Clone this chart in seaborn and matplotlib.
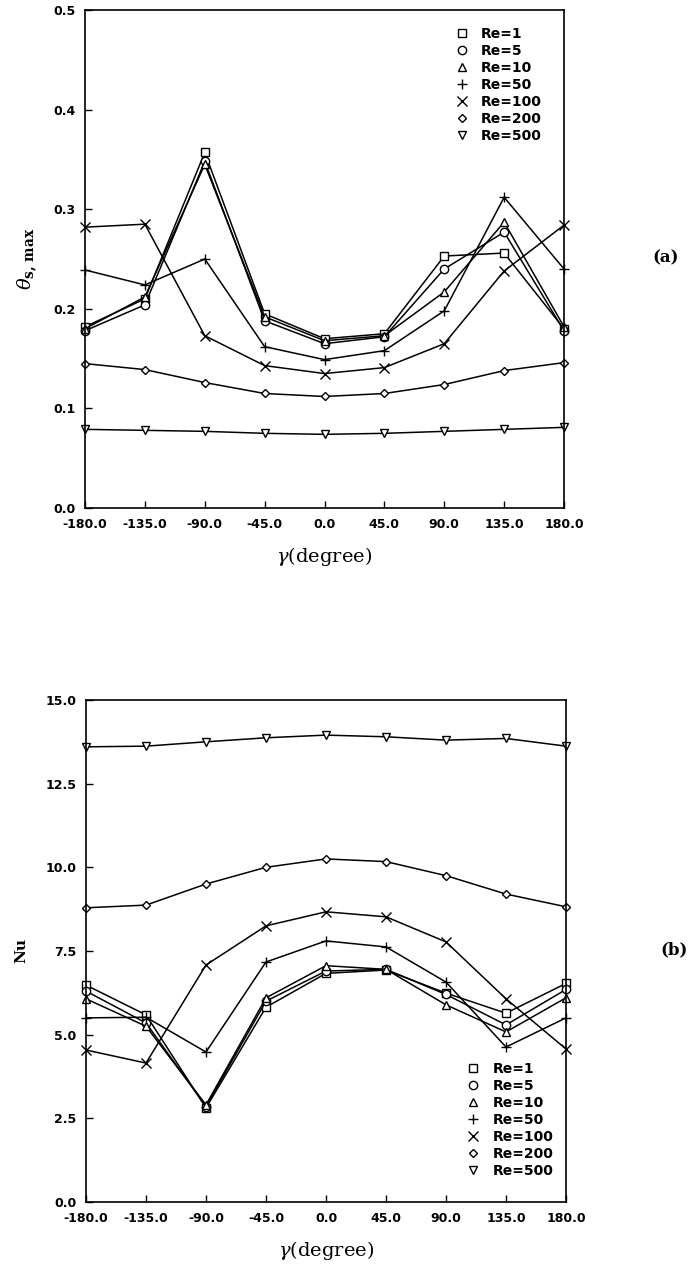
import numpy as np
import pandas as pd
import matplotlib
matplotlib.use("Agg")
import matplotlib.pyplot as plt
from matplotlib.lines import Line2D
import seaborn as sns

# Inclination angle (degree)
gamma = [-180, -135, -90, -45, 0, 45, 90, 135, 180]
re_labels = ["Re=1", "Re=5", "Re=10", "Re=50", "Re=100", "Re=200", "Re=500"]

# (a) max surface temperature
theta_re1 = [0.182, 0.210, 0.357, 0.195, 0.170, 0.175, 0.253, 0.256, 0.180]
theta_re5 = [0.178, 0.204, 0.348, 0.188, 0.165, 0.172, 0.240, 0.277, 0.178]
theta_re10 = [0.180, 0.212, 0.345, 0.192, 0.168, 0.173, 0.217, 0.287, 0.182]
theta_re50 = [0.239, 0.224, 0.250, 0.162, 0.149, 0.158, 0.198, 0.312, 0.240]
theta_re100 = [0.282, 0.285, 0.173, 0.143, 0.135, 0.141, 0.165, 0.238, 0.284]
theta_re200 = [0.145, 0.139, 0.126, 0.115, 0.112, 0.115, 0.124, 0.138, 0.146]
theta_re500 = [0.079, 0.078, 0.077, 0.075, 0.074, 0.075, 0.077, 0.079, 0.081]

# (b) Nusselt number
nu_re1 = [6.48, 5.59, 2.81, 5.82, 6.83, 6.93, 6.24, 5.64, 6.53]
nu_re5 = [6.30, 5.35, 2.85, 6.00, 6.90, 6.95, 6.20, 5.29, 6.35]
nu_re10 = [6.07, 5.25, 2.90, 6.10, 7.06, 6.95, 5.89, 5.08, 6.10]
nu_re50 = [5.50, 5.52, 4.48, 7.17, 7.80, 7.62, 6.57, 4.63, 5.50]
nu_re100 = [4.54, 4.15, 7.08, 8.25, 8.67, 8.52, 7.77, 6.07, 4.57]
nu_re200 = [8.79, 8.87, 9.50, 10.00, 10.25, 10.17, 9.75, 9.20, 8.82]
nu_re500 = [13.60, 13.62, 13.75, 13.87, 13.95, 13.90, 13.80, 13.85, 13.62]

theta_all = [theta_re1, theta_re5, theta_re10, theta_re50, theta_re100, theta_re200, theta_re500]
nu_all = [nu_re1, nu_re5, nu_re10, nu_re50, nu_re100, nu_re200, nu_re500]

marker_map = {"Re=1": "s", "Re=5": "o", "Re=10": "^", "Re=50": "+",
              "Re=100": "x", "Re=200": "D", "Re=500": "v"}
msize_map = {"Re=1": 5.5, "Re=5": 6, "Re=10": 6, "Re=50": 7,
             "Re=100": 7, "Re=200": 4.5, "Re=500": 6}


def long_form(series):
    rows = []
    for lab, vals in zip(re_labels, series):
        for g, v in zip(gamma, vals):
            rows.append({"gamma": g, "value": v, "Re": lab})
    return pd.DataFrame(rows)


df_theta = long_form(theta_all)
df_nu = long_form(nu_all)

sns.set_style("ticks")
plt.rcParams["font.family"] = ["DejaVu Sans"]
plt.rcParams["mathtext.fontset"] = "dejavuserif"
plt.rcParams["text.color"] = "black"
plt.rcParams["axes.labelcolor"] = "black"
plt.rcParams["xtick.color"] = "black"
plt.rcParams["ytick.color"] = "black"

fig = plt.figure(figsize=(6.89, 12.66), dpi=100)
ax1 = fig.add_axes([0.1234, 0.5987, 0.6952, 0.3934])
ax2 = fig.add_axes([0.1248, 0.0506, 0.6967, 0.3965])


def draw(ax, df):
    for lab in re_labels:
        sub = df[df["Re"] == lab]
        sns.lineplot(data=sub, x="gamma", y="value", color="black",
                     marker=marker_map[lab], markersize=msize_map[lab],
                     markerfacecolor="white", markeredgecolor="black",
                     markeredgewidth=1.0, linewidth=1.1, clip_on=False,
                     legend=False, ax=ax)
    ax.set_xlim(-180, 180)
    ax.set_xticks(gamma)
    ax.set_xticklabels([f"{g:.1f}" for g in gamma])
    ax.tick_params(direction="in", length=5, width=1.0, pad=7,
                   top=False, right=False, labelsize=9, colors="black")
    for lbl in ax.get_xticklabels() + ax.get_yticklabels():
        lbl.set_fontweight("bold")
    for sp in ax.spines.values():
        sp.set_linewidth(1.2)
        sp.set_color("black")
    ax.set_xlabel(r"$\gamma$(degree)", family="DejaVu Serif", fontsize=14,
                  labelpad=10)


def add_legend(ax, loc, anchor):
    handles = [Line2D([], [], linestyle="none", marker=marker_map[l],
                      markersize=msize_map[l], markerfacecolor="white",
                      markeredgecolor="black", markeredgewidth=1.0)
               for l in re_labels]
    leg = ax.legend(handles, re_labels, loc=loc, bbox_to_anchor=anchor,
                    frameon=False, handlelength=1.0, handletextpad=0.9,
                    labelspacing=0.22, borderaxespad=0,
                    prop={"weight": "bold", "size": 10})
    return leg


draw(ax1, df_theta)
ax1.set_ylim(0.0, 0.5)
ax1.set_yticks([0.0, 0.1, 0.2, 0.3, 0.4, 0.5])
ax1.set_yticklabels(["0.0", "0.1", "0.2", "0.3", "0.4", "0.5"], fontweight="bold")
ax1.set_ylabel(r"$\theta_{\mathbf{s,\,max}}$", fontsize=14, labelpad=10)
add_legend(ax1, "upper left", (0.76, 0.977))
fig.text(0.985, 1 - 258 / 1266, "(a)", family="DejaVu Serif", fontweight="bold",
         fontsize=12, ha="right", va="center")

draw(ax2, df_nu)
ax2.set_ylim(0.0, 15.0)
ax2.set_yticks([0.0, 2.5, 5.0, 7.5, 10.0, 12.5, 15.0])
ax2.set_yticklabels(["0.0", "2.5", "5.0", "7.5", "10.0", "12.5", "15.0"], fontweight="bold")
ax2.set_ylabel("Nu", family="DejaVu Serif", fontweight="bold", fontsize=11,
               labelpad=12)
add_legend(ax2, "upper left", (0.78, 0.29))
fig.text(0.998, 1 - 950 / 1266, "(b)", family="DejaVu Serif", fontweight="bold",
         fontsize=12, ha="right", va="center")

fig.savefig("out.png", dpi=100)
